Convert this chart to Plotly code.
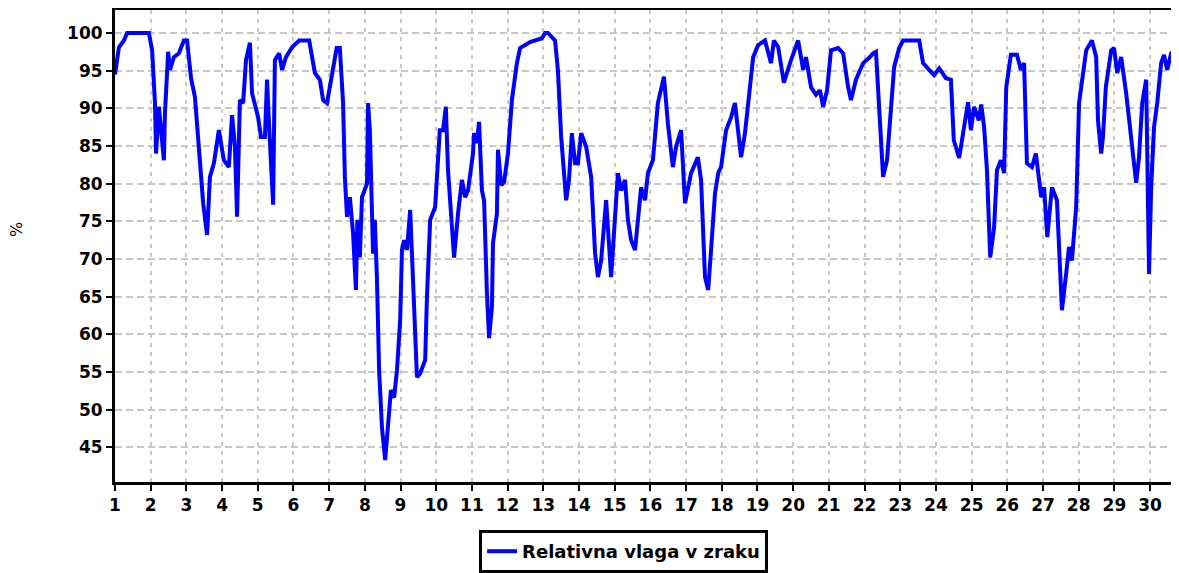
import plotly.graph_objects as go

# day of month (fractional) and relative humidity [%]
days = [
    1.00, 1.06, 1.11, 1.25, 1.34, 1.95, 2.04, 2.12, 2.15, 2.23,
    2.29, 2.37, 2.40, 2.49, 2.54, 2.65, 2.79, 2.93, 3.02, 3.13,
    3.24, 3.35, 3.47, 3.58, 3.66, 3.77, 3.91, 4.05, 4.19, 4.28,
    4.36, 4.42, 4.50, 4.59, 4.67, 4.78, 4.84, 5.01, 5.09, 5.20,
    5.26, 5.31, 5.43, 5.48, 5.60, 5.68, 5.79, 5.96, 6.16, 6.44,
    6.60, 6.74, 6.83, 6.94, 7.05, 7.21, 7.30, 7.39, 7.44, 7.50,
    7.58, 7.67, 7.75, 7.79, 7.86, 7.92, 8.06, 8.09, 8.14, 8.20,
    8.23, 8.28, 8.34, 8.40, 8.48, 8.57, 8.63, 8.73, 8.82, 8.90,
    8.99, 9.04, 9.10, 9.18, 9.27, 9.35, 9.46, 9.55, 9.69, 9.74,
    9.83, 9.97, 10.10, 10.19, 10.27, 10.33, 10.44, 10.50, 10.61, 10.72,
    10.81, 10.89, 11.03, 11.06, 11.14, 11.20, 11.28, 11.34, 11.42, 11.48,
    11.56, 11.59, 11.70, 11.73, 11.82, 11.90, 12.01, 12.12, 12.26, 12.35,
    12.63, 12.96, 13.05, 13.13, 13.33, 13.41, 13.50, 13.61, 13.64, 13.72,
    13.80, 13.89, 13.97, 14.06, 14.20, 14.34, 14.45, 14.53, 14.62, 14.76,
    14.90, 15.09, 15.18, 15.29, 15.37, 15.46, 15.57, 15.74, 15.85, 15.93,
    16.07, 16.21, 16.38, 16.49, 16.63, 16.72, 16.86, 16.97, 17.14, 17.33,
    17.42, 17.53, 17.62, 17.70, 17.81, 17.90, 17.98, 18.12, 18.26, 18.37,
    18.54, 18.65, 18.79, 18.88, 19.02, 19.21, 19.38, 19.46, 19.58, 19.74,
    19.94, 20.14, 20.28, 20.36, 20.50, 20.64, 20.75, 20.84, 20.95, 21.06,
    21.26, 21.40, 21.54, 21.62, 21.76, 21.96, 22.13, 22.24, 22.32, 22.41,
    22.52, 22.63, 22.74, 22.83, 22.97, 23.08, 23.53, 23.64, 23.81, 23.95,
    24.09, 24.28, 24.42, 24.50, 24.65, 24.79, 24.90, 24.98, 25.07, 25.20,
    25.27, 25.35, 25.43, 25.52, 25.63, 25.71, 25.82, 25.91, 25.97, 26.10,
    26.27, 26.38, 26.47, 26.55, 26.69, 26.80, 26.89, 26.95, 27.03, 27.12,
    27.25, 27.39, 27.45, 27.53, 27.65, 27.73, 27.81, 27.93, 28.01, 28.21,
    28.37, 28.49, 28.54, 28.63, 28.68, 28.76, 28.91, 28.99, 29.08, 29.19,
    29.33, 29.50, 29.61, 29.69, 29.78, 29.89, 29.97, 30.03, 30.11, 30.20,
    30.31, 30.39, 30.48, 30.59, 30.76, 30.85,
]
rh = [
    94.5, 96.5, 98.1, 99.0, 100, 100, 97.7, 90.7, 84.0, 90.2,
    86.7, 83.1, 89.4, 97.5, 95.1, 96.8, 97.3, 99.0, 99.0, 94.0,
    91.5, 84.0, 77.4, 73.2, 80.9, 82.7, 87.1, 83.1, 82.2, 89.1,
    84.9, 75.6, 91.1, 90.7, 96.4, 98.7, 92.0, 88.8, 86.2, 86.2,
    93.8, 88.4, 77.2, 96.4, 97.3, 95.1, 96.8, 98.1, 99.0, 99.0,
    94.7, 93.8, 91.1, 90.7, 93.8, 98.0, 98.0, 90.7, 80.9, 75.6,
    78.2, 73.4, 65.9, 75.2, 70.2, 78.2, 80.0, 90.7, 87.1, 75.2,
    70.7, 75.2, 67.2, 55.2, 47.6, 43.3, 46.9, 52.6, 51.6, 55.2,
    61.9, 71.2, 72.5, 71.2, 76.5, 66.3, 54.3, 54.8, 56.6, 64.9,
    75.2, 76.9, 87.1, 87.1, 90.2, 81.8, 72.9, 70.2, 76.0, 80.5,
    78.2, 79.1, 84.0, 86.7, 85.4, 88.2, 79.1, 77.8, 65.5, 59.5,
    63.6, 72.1, 76.0, 84.5, 79.8, 80.2, 84.0, 91.1, 96.0, 98.0,
    98.8, 99.3, 100, 100, 99.0, 95.0, 86.2, 80.5, 77.8, 80.5,
    86.7, 82.7, 82.7, 86.7, 84.9, 80.9, 70.8, 67.6, 69.8, 77.8,
    67.6, 81.4, 79.1, 80.5, 75.2, 72.5, 71.2, 79.5, 77.8, 81.4,
    83.1, 90.7, 94.2, 88.0, 82.2, 84.9, 87.1, 77.4, 81.4, 83.5,
    80.5, 67.6, 65.9, 71.2, 78.7, 81.4, 82.2, 87.1, 88.8, 90.7,
    83.5, 86.7, 92.8, 96.8, 98.4, 99.0, 96.0, 99.0, 98.1, 93.4,
    96.4, 99.0, 95.1, 96.8, 92.8, 91.8, 92.4, 90.2, 92.4, 97.7,
    98.0, 97.3, 92.8, 91.1, 93.8, 96.0, 96.7, 97.3, 97.5, 89.8,
    80.9, 83.1, 90.7, 95.5, 98.0, 99.0, 99.0, 96.0, 95.1, 94.4,
    95.3, 94.0, 93.8, 85.8, 83.4, 88.0, 90.8, 87.1, 90.2, 88.4,
    90.5, 87.5, 81.8, 70.2, 74.2, 81.8, 83.1, 81.4, 92.8, 97.1,
    97.1, 95.1, 96.0, 82.7, 82.2, 84.0, 80.1, 78.2, 79.5, 72.9,
    79.5, 77.8, 71.6, 63.2, 68.1, 71.6, 69.8, 76.9, 90.7, 97.7,
    99.0, 96.8, 88.4, 84.0, 86.2, 92.8, 97.7, 98.0, 94.7, 96.8,
    92.0, 84.9, 80.1, 83.5, 90.7, 93.8, 68.0, 79.5, 87.5, 90.7,
    96.0, 97.1, 95.1, 97.3, 98.1, 98.3,
]
x_ticks = list(range(1, 31))
y_ticks = list(range(45, 101, 5))

tick_font = dict(family='DejaVu Sans', size=17, color='black', weight='bold')

fig = go.Figure()
fig.add_trace(go.Scatter(x=days, y=rh, mode='lines', name='Relativna vlaga v zraku',
                         line=dict(color='#0000ff', width=4)))

# the page body has an 8px margin, so the figure is a bit smaller than the window
fig.update_layout(
    width=1171, height=565,
    margin=dict(l=107, r=0, t=2, b=91),
    paper_bgcolor='white', plot_bgcolor='white',
    showlegend=True,
    legend=dict(orientation='h', x=0.478, xanchor='center', y=-0.102, yanchor='top',
                bordercolor='black', borderwidth=3, bgcolor='white',
                font=dict(family='DejaVu Sans', size=18, color='black', weight='bold')),
    annotations=[dict(text='%', xref='paper', yref='paper', x=-0.092, y=0.534,
                      xanchor='center', yanchor='middle',
                      textangle=-90, showarrow=False,
                      font=dict(family='DejaVu Sans', size=16, color='black'))],
)
fig.update_xaxes(range=[1, 30.81], tickvals=x_ticks, ticks='outside', ticklen=6,
                 tickwidth=2, tickcolor='black', tickfont=tick_font,
                 showline=True, linewidth=3, linecolor='black', mirror=True,
                 showgrid=True, gridcolor='#c8c8c8', gridwidth=2, griddash='4px,5px',
                 zeroline=False)
fig.update_yaxes(range=[40.4, 103.05], tickvals=y_ticks, ticks='outside', ticklen=6,
                 tickwidth=2, tickcolor='black', tickfont=tick_font,
                 showline=True, linewidth=3, linecolor='black',
                 showgrid=True, gridcolor='#c8c8c8', gridwidth=2, griddash='7px,4px',
                 zeroline=False)

fig.write_html('out.html')
